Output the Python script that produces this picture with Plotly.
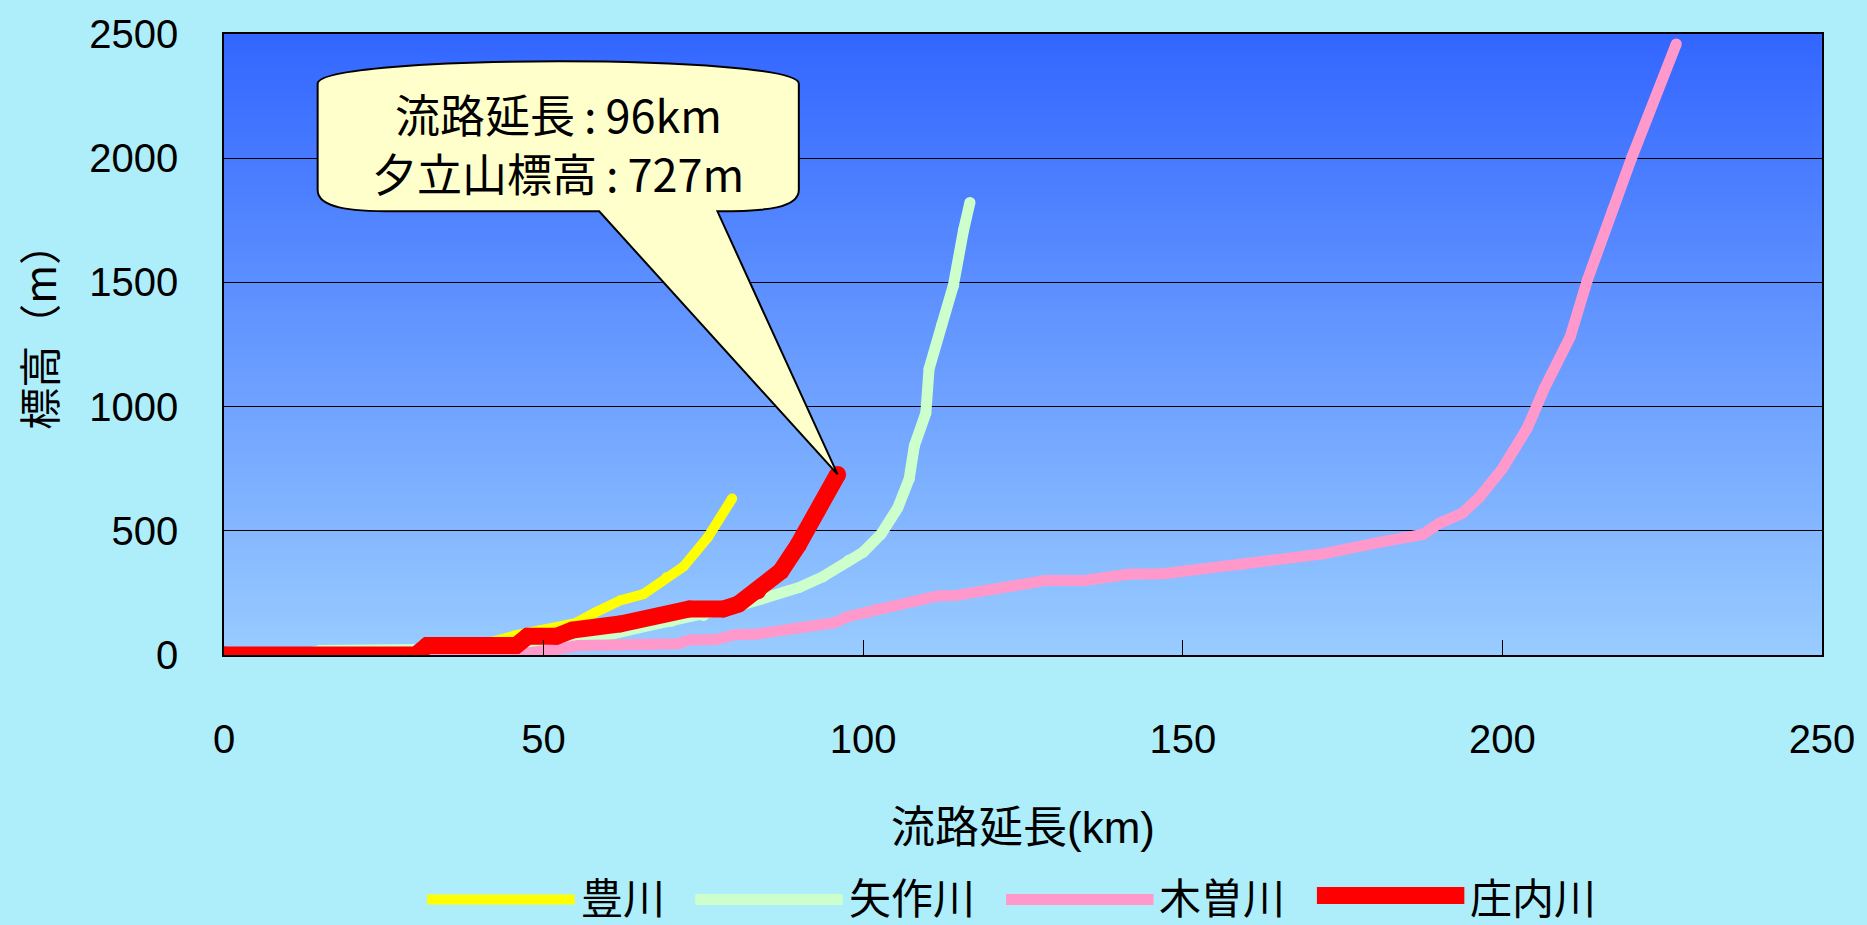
import plotly.graph_objects as go
import zlib, struct, base64

# ---------------- data ----------------
toyo_km = [0, 30, 32, 41.5, 45.7, 49.4, 52, 55, 58, 62, 65.6, 69.2, 71.9, 75.7, 79.5]
toyo_m = [0, 0, 20, 50, 80, 100, 110, 128, 170, 220, 245, 313, 356, 474, 630]

yahagi_km = [0, 12, 15, 30, 40, 50, 55, 60, 65, 70, 75, 80, 84, 90, 93.7, 97.7, 100,
             102.8, 105.4, 107.2, 108.0, 109.8, 110.3, 112.3, 114.1, 115.7, 116.7]
yahagi_m = [0, 0, 18, 18, 25, 40, 55, 80, 110, 135, 159, 195, 225, 272, 315, 381, 414,
            487, 592, 710, 842, 974, 1151, 1329, 1487, 1710, 1822]

kiso_km = [0, 32, 45.5, 47.5, 52.4, 55.4, 71, 72.8, 77, 79.9, 83.5, 90.1, 95.5, 97.7,
           102.3, 108, 111.6, 114.6, 128.5, 134.7, 141.4, 147, 159.4, 171.9, 180.7,
           187.5, 190.1, 193.7, 196.4, 200, 203.9, 206.6, 210.6, 213.3, 217.3, 220.2, 227.2]
kiso_m = [0, 0, 0, 8, 25, 38, 45, 60, 62, 82, 85, 108, 130, 155,
          185, 215, 238, 240, 300, 300, 325, 327, 365, 407, 453,
          485, 530, 570, 635, 750, 914, 1076, 1280, 1510, 1794, 2000, 2460]

shonai_km = [0, 30, 31.8, 45.7, 47.5, 52, 54.5, 62, 72.8, 78.1, 80.5, 83.5, 87.1, 89.8, 96]
shonai_m = [0, 0, 38, 38, 75, 75, 100, 125, 185, 185, 205, 258, 337, 442, 727]

series_names = ["豊川", "矢作川", "木曽川", "庄内川"]
x_ticks = [0, 50, 100, 150, 200, 250]
y_ticks = [0, 500, 1000, 1500, 2000, 2500]
x_title = "流路延長(km)"
y_title = "標高（m）"
callout_lines = ["流路延長\u2009:\u200996km", "夕立山標高\u2009:\u2009727m"]

# ---------------- styling ----------------
colors = ["#FFFF00", "#CCFFCC", "#FF99CC", "#FF0000"]
widths = [10, 11, 11, 17]

FIG_W, FIG_H = 1867, 925
ML, MR, MT, MB = 224, 39, 30, 270
PW = FIG_W - ML - MR
PH = FIG_H - MT - MB


def px_x(px):
    return (px - ML) / PW


def px_y(py):
    return (FIG_H - MB - py) / PH


def make_png(width, height, rows):
    raw = b"".join(b"\x00" + bytes(r) for r in rows)

    def chunk(t, d):
        c = struct.pack(">I", len(d)) + t + d
        return c + struct.pack(">I", zlib.crc32(t + d) & 0xFFFFFFFF)

    return (b"\x89PNG\r\n\x1a\n"
            + chunk(b"IHDR", struct.pack(">IIBBBBB", width, height, 8, 2, 0, 0, 0))
            + chunk(b"IDAT", zlib.compress(raw))
            + chunk(b"IEND", b""))


top_rgb = (0x33, 0x66, 0xFF)
bot_rgb = (0x99, 0xCC, 0xFF)
N = 256
rows = []
for i in range(N):
    f = i / (N - 1)
    rows.append([round(top_rgb[k] + (bot_rgb[k] - top_rgb[k]) * f) for k in range(3)])
grad_uri = "data:image/png;base64," + base64.b64encode(make_png(1, N, rows)).decode()

fig = go.Figure()
all_x = [toyo_km, yahagi_km, kiso_km, shonai_km]
all_y = [toyo_m, yahagi_m, kiso_m, shonai_m]
for name, xs, ys, c, w in zip(series_names, all_x, all_y, colors, widths):
    fig.add_trace(go.Scatter(
        x=xs, y=ys, name=name, mode="lines+markers",
        line=dict(color=c, width=w),
        marker=dict(size=w, color=c, line=dict(width=0)),
        showlegend=False, hoverinfo="x+y+name"))

tick_font = dict(family="Liberation Sans, Arial, sans-serif", size=40, color="black")
cjk_font = "Liberation Sans, Noto Sans CJK JP, sans-serif"
jp_font = "Noto Sans CJK JP, sans-serif"

fig.update_layout(
    width=FIG_W, height=FIG_H,
    margin=dict(l=ML, r=MR, t=MT, b=MB),
    paper_bgcolor="#aeeefb",
    plot_bgcolor="#99CCFF",
    xaxis=dict(range=[0, 250], tickvals=x_ticks, ticks="inside", ticklen=15,
               tickcolor="black", tickwidth=1, showline=True, linecolor="black",
               linewidth=1.5, mirror=True, showgrid=False, zeroline=False,
               tickfont=tick_font, ticklabelstandoff=48, fixedrange=True),
    yaxis=dict(range=[0, 2500], tickvals=y_ticks, ticks="inside", ticklen=15,
               tickcolor="black", tickwidth=1, showline=True, linecolor="black",
               linewidth=1.5, mirror=True, showgrid=True, gridcolor="black",
               gridwidth=1, zeroline=False, tickfont=tick_font,
               ticklabelstandoff=36, fixedrange=True),
    images=[dict(source=grad_uri, xref="x", yref="y", x=0, y=2500, sizex=250,
                 sizey=2500, sizing="stretch", xanchor="left", yanchor="top",
                 layer="below")],
)

# axis titles
fig.add_annotation(text=x_title, xref="paper", yref="paper", x=0.5, y=px_y(829),
                   xanchor="center", yanchor="middle", showarrow=False,
                   font=dict(family=cjk_font, size=44, color="black"))
fig.add_annotation(text=y_title, xref="paper", yref="paper", x=px_x(36), y=px_y(324),
                   xanchor="center", yanchor="middle", showarrow=False, textangle=-90,
                   font=dict(family=jp_font, size=42, color="black"))

# callout (speech bubble) pointing at the Shonai source point
tip_x, tip_y = shonai_km[-1], shonai_m[-1]
L, R = 14.65, 89.93
T_side, B_side = 2300, 1872
top_ctrl = 2420
bot_y = 1786
tail_l, tail_r = 58.7, 77.2
path = (f"M {L},{B_side} L {L},{T_side} C {L},{top_ctrl} {R},{top_ctrl} {R},{T_side} "
        f"L {R},{B_side} C {R},{bot_y + 14} {R - 5},{bot_y} {tail_r},{bot_y} "
        f"L {tip_x},{tip_y} L {tail_l},{bot_y} L {L + 12},{bot_y} "
        f"C {L + 5},{bot_y} {L},{bot_y + 14} {L},{B_side} Z")
fig.add_shape(type="path", path=path, xref="x", yref="y",
              fillcolor="#FFFFCC", line=dict(color="black", width=2), layer="above")
for line_text, cy in zip(callout_lines, [110, 169]):
    fig.add_annotation(text=line_text, xref="x", yref="y",
                       x=(L + R) / 2, y=(655 - cy) * 4, xanchor="center",
                       yanchor="middle", showarrow=False, borderpad=0,
                       font=dict(family=jp_font, size=45, color="black"))

# custom legend (long line samples)
x_cursor = 428
for name, c, w in zip(series_names, colors, widths):
    x0 = x_cursor
    x1 = x0 + 148
    yl = 897 if w > 12 else 901
    fig.add_shape(type="line", xref="paper", yref="paper",
                  x0=px_x(x0), x1=px_x(x1), y0=px_y(yl), y1=px_y(yl),
                  line=dict(color=c, width=w))
    fig.add_annotation(text=name, xref="paper", yref="paper", x=px_x(x1 + 5),
                       y=px_y(897), xanchor="left", yanchor="middle", showarrow=False,
                       borderpad=0,
                       font=dict(family=jp_font, size=42, color="black"))
    x_cursor = x1 + 7 + len(name) * 43 + 28

fig.write_html("out.html")
